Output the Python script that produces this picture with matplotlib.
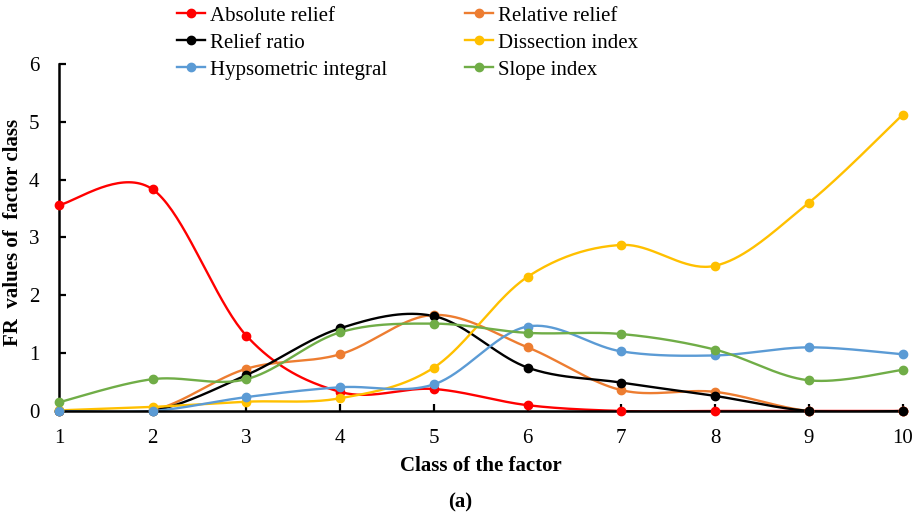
import matplotlib
matplotlib.use("Agg")
import matplotlib.pyplot as plt
import numpy as np

plt.rcParams['font.family'] = ['Liberation Serif', 'DejaVu Serif']

classes = [1, 2, 3, 4, 5, 6, 7, 8, 9, 10]
absolute_relief = [3.56, 3.83, 1.30, 0.33, 0.38, 0.10, 0.0, 0.0, 0.0, 0.0]
relative_relief = [0.0, 0.01, 0.73, 0.98, 1.66, 1.10, 0.36, 0.33, 0.0, 0.0]
relief_ratio = [0.0, 0.0, 0.62, 1.43, 1.64, 0.75, 0.49, 0.26, 0.0, 0.0]
dissection_index = [0.01, 0.07, 0.16, 0.22, 0.75, 2.32, 2.87, 2.51, 3.60, 5.12]
hypsometric_integral = [0.0, 0.0, 0.24, 0.41, 0.46, 1.46, 1.03, 0.96, 1.10, 0.98]
slope_index = [0.15, 0.55, 0.55, 1.36, 1.51, 1.35, 1.33, 1.06, 0.53, 0.71]

series = [
    ("Absolute relief", absolute_relief, "#FF0000"),
    ("Relative relief", relative_relief, "#ED7D31"),
    ("Relief ratio", relief_ratio, "#000000"),
    ("Dissection index", dissection_index, "#FFC000"),
    ("Hypsometric integral", hypsometric_integral, "#5B9BD5"),
    ("Slope index", slope_index, "#70AD47"),
]


def smooth(x, y, n=40):
    # bezier smoothing like spreadsheet "smoothed line"
    x = np.asarray(x, float)
    y = np.asarray(y, float)
    px = np.concatenate([[x[0]], x, [x[-1]]])
    py = np.concatenate([[y[0]], y, [y[-1]]])
    xs, ys = [], []
    t = np.linspace(0, 1, n)
    for i in range(1, len(px) - 2):
        p0 = np.array([px[i], py[i]])
        p3 = np.array([px[i + 1], py[i + 1]])
        c1 = p0 + (np.array([px[i + 1], py[i + 1]]) - np.array([px[i - 1], py[i - 1]])) / 6
        c2 = p3 - (np.array([px[i + 2], py[i + 2]]) - np.array([px[i], py[i]])) / 6
        b = ((1 - t) ** 3)[:, None] * p0 + (3 * (1 - t) ** 2 * t)[:, None] * c1 \
            + (3 * (1 - t) * t ** 2)[:, None] * c2 + (t ** 3)[:, None] * p3
        xs.append(b[:, 0])
        ys.append(b[:, 1])
    return np.concatenate(xs), np.concatenate(ys)


fig = plt.figure(figsize=(9.21, 5.15), dpi=100)
ax = fig.add_axes([0.064, 0.202, 0.916, 0.674])

handles = []
for name, vals, col in series:
    sx, sy = smooth(classes, vals)
    ax.plot(sx, sy, color=col, lw=1.7, zorder=2)
    ax.plot(classes, vals, 'o', color=col, ms=6, clip_on=False, zorder=3)
    h, = ax.plot([], [], '-o', color=col, lw=1.7, ms=6, label=name)
    handles.append(h)

ax.set_xlim(1, 10)
ax.set_ylim(0, 6)
ax.set_xticks(classes)
ax.set_yticks(range(0, 7))
ax.spines['top'].set_visible(False)
ax.spines['right'].set_visible(False)
ax.spines['left'].set_linewidth(1.8)
ax.spines['bottom'].set_linewidth(1.8)
ax.tick_params(axis='x', direction='in', length=5, width=1.6, labelsize=15, pad=13)
ax.tick_params(axis='y', direction='in', length=5, width=1.6, labelsize=15, pad=14)
ax.set_xlabel("Class of the factor", fontsize=15, fontweight='bold', labelpad=6)
ax.set_ylabel("FR  values of  factor class", fontsize=15, fontweight='bold')
ax.yaxis.set_label_coords(-0.0427, 0.515)
fig.text(0.5, 0.024, "(a)", ha='center', va='center', fontsize=15, fontweight='bold')

# legend is filled row by row: two entries per row
order = [0, 2, 4, 1, 3, 5]
fig.legend([handles[i] for i in order], [handles[i].get_label() for i in order],
           loc='upper left', bbox_to_anchor=(177 / 921, 1 - 6 / 515), ncol=2,
           frameon=False, borderpad=0, borderaxespad=0,
           fontsize=15, handlelength=1.35, handletextpad=0.25, columnspacing=3.7,
           labelspacing=0.36)

plt.savefig("out.png", dpi=100)
